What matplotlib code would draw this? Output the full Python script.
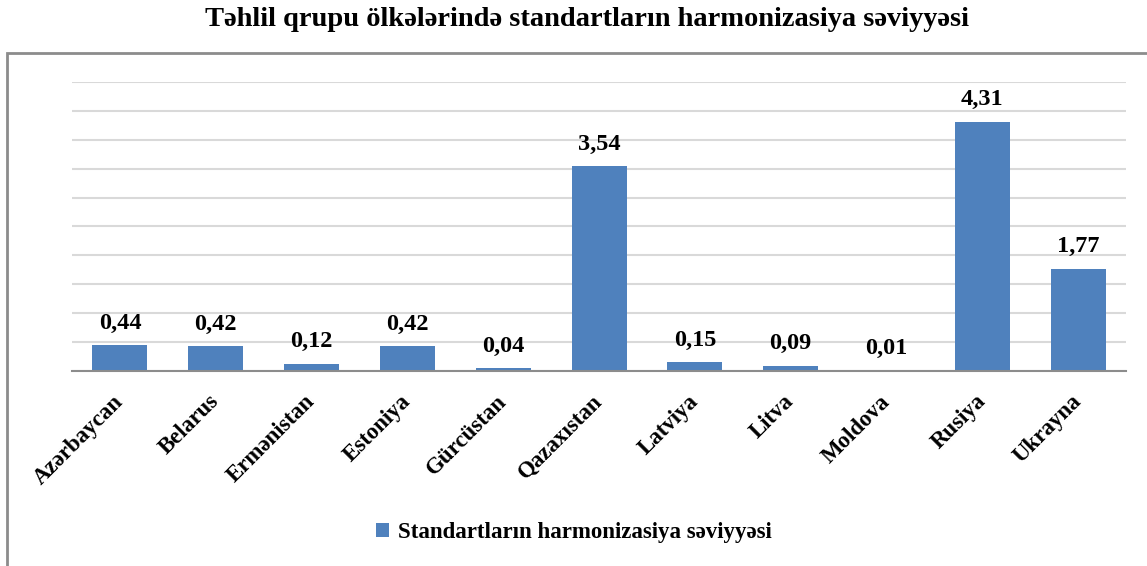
import numpy as np
import matplotlib.pyplot as plt
from matplotlib.patches import Rectangle

countries = ["Azərbaycan", "Belarus", "Ermənistan", "Estoniya", "Gürcüstan",
             "Qazaxıstan", "Latviya", "Litva", "Moldova", "Rusiya", "Ukrayna"]
values = [0.44, 0.42, 0.12, 0.42, 0.04, 3.54, 0.15, 0.09, 0.01, 4.31, 1.77]
series_name = "Standartların harmonizasiya səviyyəsi"
title = "Təhlil qrupu ölkələrində standartların harmonizasiya səviyyəsi"

BAR = "#4F81BD"
SERIF = ["Liberation Serif", "DejaVu Serif"]

fig = plt.figure(figsize=(11.47, 5.66), dpi=100)
ax = fig.add_axes([0.0628, 0.345, 0.919, 0.51])

x = np.arange(len(countries))
bars = ax.bar(x, values, width=0.575, color=BAR, label=series_name, zorder=3)

for xi, v in zip(x, values):
    ax.text(xi, v + 0.2, f"{v:.2f}".replace(".", ","), ha="center", va="bottom",
            fontsize=17.5, fontweight="bold", family=SERIF)

ax.set_xlim(-0.5, len(countries) - 0.5)
ax.set_ylim(0, 5)
ax.set_yticks(np.arange(0, 5.01, 0.5))
ax.set_yticklabels([])
ax.tick_params(axis="y", length=0)
ax.tick_params(axis="x", length=0, pad=20)
ax.grid(axis="y", color="#D9D9D9", lw=1.5, zorder=0)
for s in ("top", "right", "left"):
    ax.spines[s].set_visible(False)
ax.spines["bottom"].set_color("#8C8C8C")
ax.spines["bottom"].set_linewidth(1.5)
ax.spines["bottom"].set_zorder(4)

ax.set_xticks(x)
ax.set_xticklabels(countries, rotation=45, ha="right", va="center",
                   rotation_mode="anchor",
                   fontsize=16.5, fontweight="bold", family=SERIF)

fig.text(0.512, 0.966, title, ha="center", va="center",
         fontsize=20.5, fontweight="bold", family=SERIF)

leg = fig.legend(handles=[bars], labels=[series_name], loc="center",
                 bbox_to_anchor=(0.5, 0.059), frameon=False,
                 prop={"family": SERIF, "size": 16.5, "weight": "bold"},
                 handlelength=0.6, handleheight=0.6, handletextpad=0.35)

# outer frame
fig.patches.append(Rectangle((0.0065, -0.02), 1.0, 0.926, transform=fig.transFigure,
                             fill=False, edgecolor="#8C8C8C", lw=2))

fig.savefig("out.png", dpi=100)
